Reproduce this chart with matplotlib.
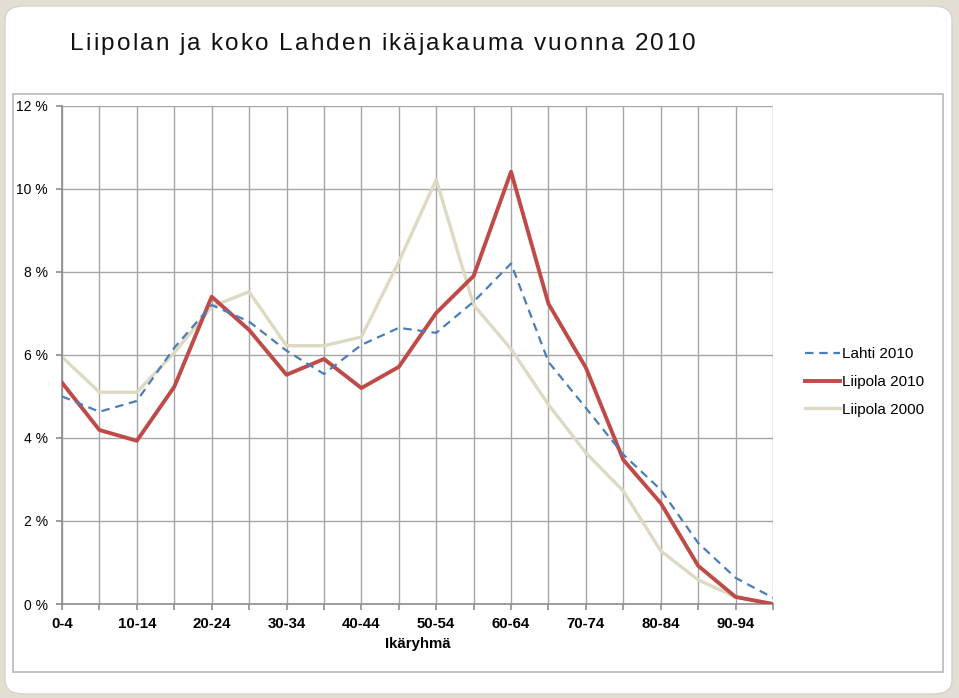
import matplotlib
matplotlib.use("Agg")
import matplotlib.pyplot as plt
from matplotlib.patches import FancyBboxPatch, Rectangle

plt.rcParams['font.family'] = ['Liberation Sans', 'DejaVu Sans']

# ikäryhmät
groups = ['0-4', '5-9', '10-14', '15-19', '20-24', '25-29', '30-34', '35-39',
          '40-44', '45-49', '50-54', '55-59', '60-64', '65-69', '70-74',
          '75-79', '80-84', '85-89', '90-94', '95+']

# osuudet (%)
lahti_2010 = [5.0, 4.63, 4.89, 6.17, 7.2, 6.8, 6.1, 5.54, 6.24, 6.65,
              6.53, 7.28, 8.2, 5.83, 4.72, 3.6, 2.75, 1.47, 0.63, 0.15]
liipola_2010 = [5.33, 4.19, 3.93, 5.23, 7.4, 6.6, 5.52, 5.9, 5.2, 5.71,
                7.01, 7.9, 10.41, 7.23, 5.69, 3.47, 2.43, 0.92, 0.17, 0.0]
liipola_2000 = [5.95, 5.1, 5.1, 6.05, 7.16, 7.52, 6.22, 6.22, 6.43, 8.24,
                10.22, 7.2, 6.14, 4.8, 3.64, 2.72, 1.28, 0.58, 0.17, 0.0]

title = 'Liipolan ja koko Lahden ikäjakauma vuonna 2010'

W, H = 959, 698
fig = plt.figure(figsize=(W / 100, H / 100), dpi=100)
fig.patch.set_facecolor('#e3ded3')

# valkoinen pohja ja kuvaajan kehys
fig.patches.append(FancyBboxPatch((5 / W, 4 / H), 947 / W, 688 / H,
                                  boxstyle='round,pad=0,rounding_size=0.02',
                                  transform=fig.transFigure, facecolor='white',
                                  edgecolor='#d8d3c8', linewidth=1, zorder=-2))
fig.patches.append(Rectangle((13 / W, 1 - 672 / H), 930 / W, 578 / H,
                             transform=fig.transFigure, facecolor='none',
                             edgecolor='#b8b8b8', linewidth=1.2, zorder=-1))

# otsikko harvennetuilla kirjaimilla
renderer = fig.canvas.get_renderer()
xpos = 70
for ch in title:
    t = fig.text(xpos / W, 1 - 44 / H, ch, fontsize=17.5, va='center',
                 ha='left', color='#111111')
    w = t.get_window_extent(renderer).width
    if ch == ' ':
        w = 6
    xpos += w + 2.2

ax = fig.add_axes([62 / W, 1 - 604 / H, 711 / W, 498.3 / H])
ax.set_facecolor('none')
x = list(range(len(groups)))

ax.plot(x, lahti_2010, color='#4a7ebb', lw=1.6, ls=(0, (3.8, 2.6)), label='Lahti 2010', zorder=4)
ax.plot(x, liipola_2010, color='#be4b48', lw=2.8, label='Liipola 2010', zorder=3)
ax.plot(x, liipola_2000, color='#ddd9c3', lw=2.4, label='Liipola 2000', zorder=2)

ax.set_xlim(0, len(groups) - 1)
ax.set_ylim(0, 12)
ax.set_xticks(x)
ax.set_xticklabels([g if i % 2 == 0 else '' for i, g in enumerate(groups)],
                   fontweight='bold', fontsize=10.8)
ax.set_yticks(range(0, 13, 2))
ax.set_yticklabels([f'{v} %' for v in range(0, 13, 2)], fontsize=10)
ax.grid(True, color='#a6a6a6', lw=1)
ax.set_axisbelow(True)
for s in ['top', 'right']:
    ax.spines[s].set_visible(False)
for s in ['left', 'bottom']:
    ax.spines[s].set_color('#8c8c8c')
    ax.spines[s].set_linewidth(1.2)
ax.tick_params(axis='both', color='#8c8c8c', length=4, width=1.2)
ax.tick_params(axis='x', pad=5)
ax.tick_params(axis='y', pad=6)
ax.set_xlabel('Ikäryhmä', fontweight='bold', fontsize=10.8, labelpad=5)

ax.legend(loc='center left', bbox_to_anchor=((805 - 62) / 711, (604 - 382) / 498.3),
          frameon=False, fontsize=11, handlelength=2.3, handletextpad=0.1,
          labelspacing=0.9, borderaxespad=0, borderpad=0)

fig.savefig('out.png', dpi=100, facecolor=fig.get_facecolor())
